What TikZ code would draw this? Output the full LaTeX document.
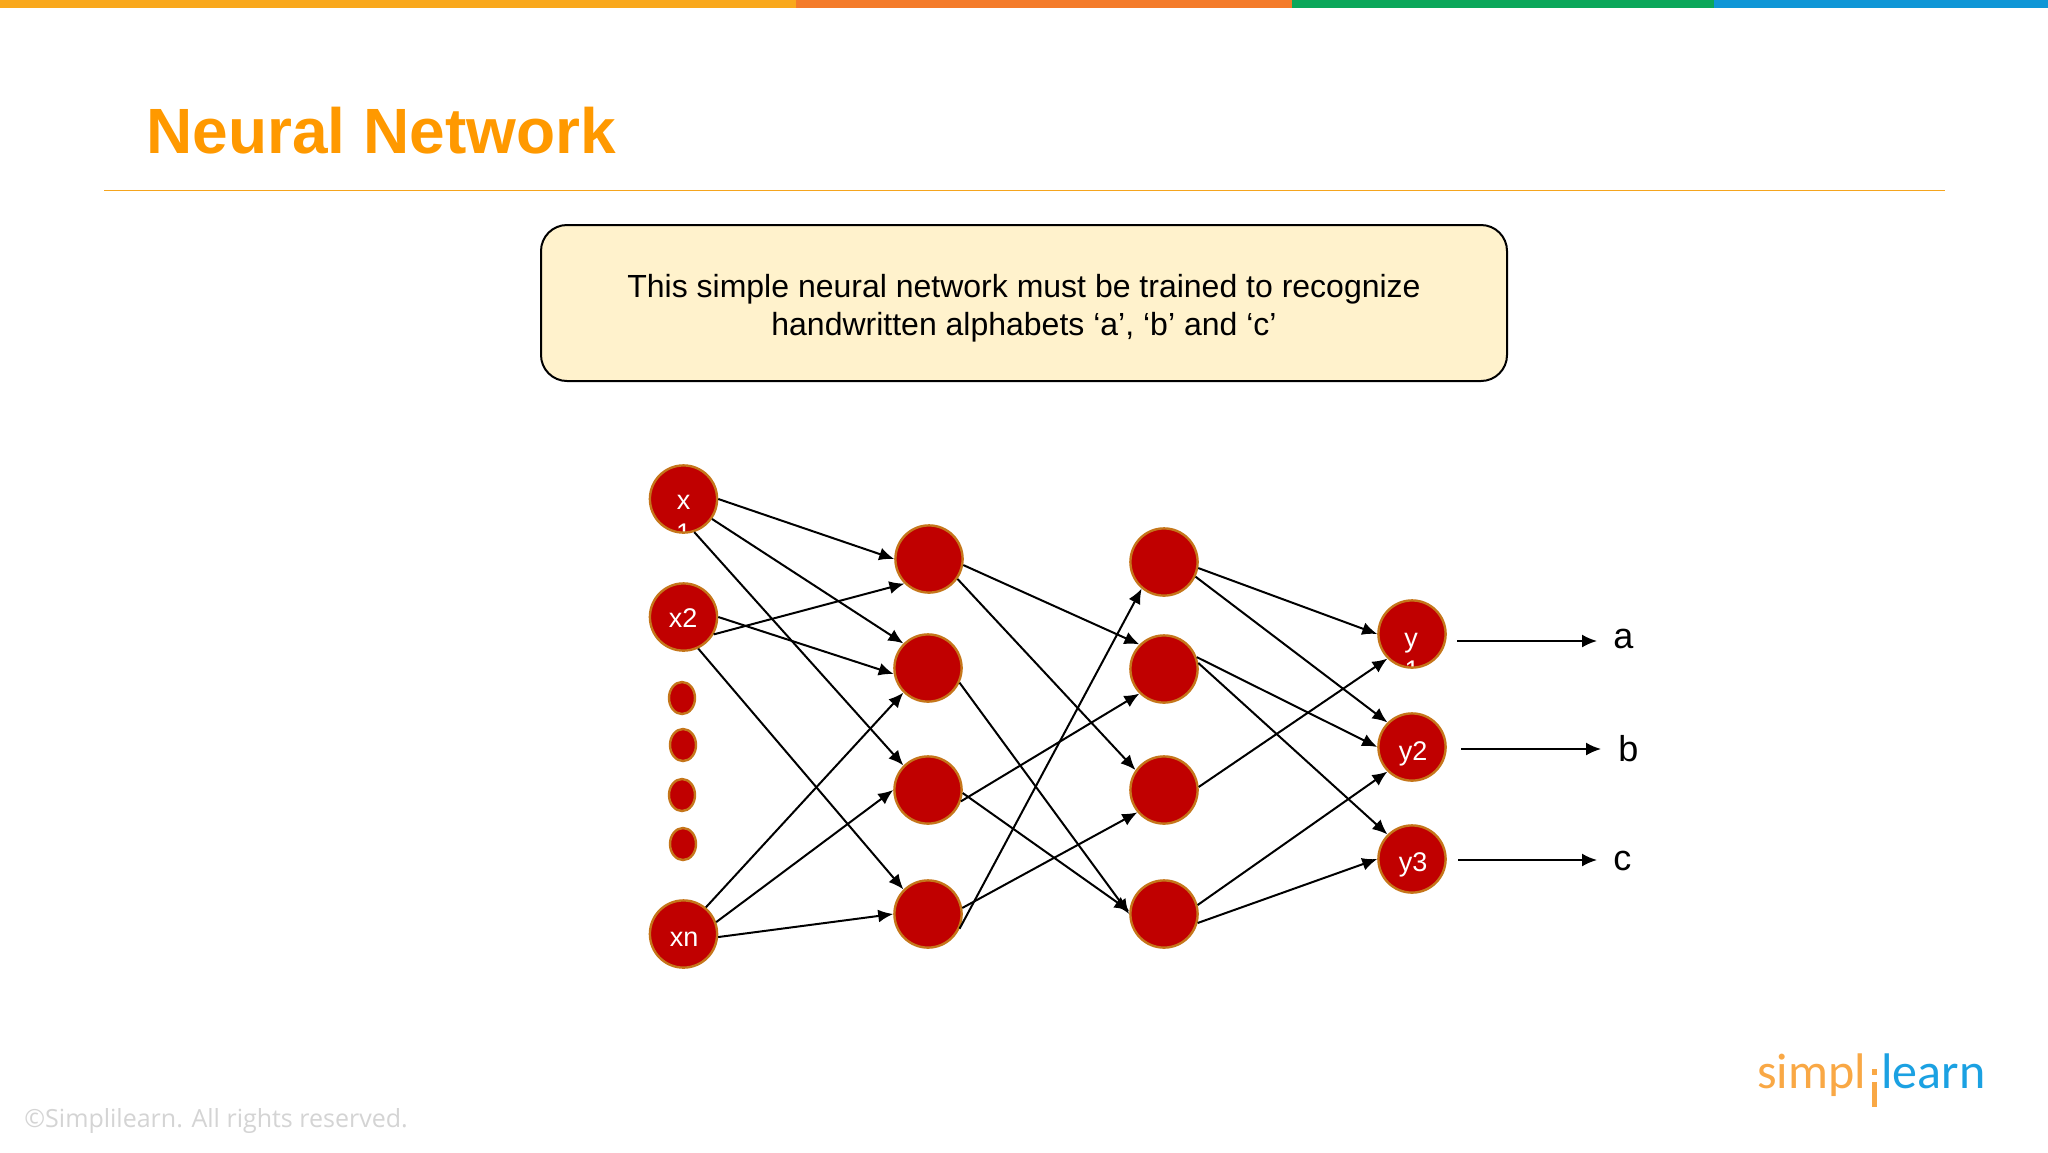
\documentclass[tikz,border=0pt]{standalone}
\usepackage{fontspec}
\setmainfont{Liberation Sans}
\newfontfamily\footfont{Open Sans}
\newfontfamily\logofont{Carlito}
\usetikzlibrary{arrows.meta,shapes.geometric}
\definecolor{brandorange}{HTML}{FF9900}
\definecolor{barA}{HTML}{F9A81C}
\definecolor{barB}{HTML}{F47B2A}
\definecolor{barC}{HTML}{0BA75A}
\definecolor{barD}{HTML}{0F96D6}
\definecolor{rulecol}{HTML}{F5A51E}
\definecolor{noteyellow}{HTML}{FFF2CC}
\definecolor{neuronred}{HTML}{C00000}
\definecolor{neuronedge}{HTML}{C5761A}
\definecolor{footgray}{HTML}{D4D4D4}
\definecolor{logoorange}{HTML}{F9A845}
\definecolor{logoblue}{HTML}{1BA1E2}
\tikzset{
  x=0.5pt,y=-0.5pt,
  neuron/.style={circle,draw=neuronedge,fill=neuronred,line width=1.2pt,minimum size=33.6pt,inner sep=0pt},
  dotnode/.style={ellipse,draw=neuronedge,fill=neuronred,line width=1.2pt,minimum width=13pt,minimum height=16pt,inner sep=0pt},
  neurontext/.style={rectangle,draw=none,fill=none,minimum size=0pt,inner sep=0pt,anchor=base,text=white,font=\fontsize{13.5}{15}\selectfont},
  link/.style={draw=black,line width=1pt,-{Latex[length=7.5pt,width=6.5pt]}},
  outlabel/.style={inner sep=0pt,font=\fontsize{18}{20}\selectfont},
}
\begin{document}
\begin{tikzpicture}
\useasboundingbox (0,0) rectangle (2048,1152);
\fill[white] (0,0) rectangle (2048,1152);
\fill[barA] (0,0) rectangle (796,8);
\fill[barB] (796,0) rectangle (1292,8);
\fill[barC] (1292,0) rectangle (1714,8);
\fill[barD] (1714,0) rectangle (2048,8);
\node[anchor=west,inner sep=0pt,text=brandorange,font=\fontsize{32}{36}\selectfont\bfseries] (title) at (146,131) {Neural Network};
\draw[rulecol,line width=0.8pt] (104,190.5) -- (1945,190.5);
\node[draw=black,line width=1pt,fill=noteyellow,rounded corners=13pt,minimum width=483pt,minimum height=78pt,inner sep=0pt] (note) at (1024,303) {};
\node[align=center,inner sep=0pt,font=\fontsize{16}{19}\selectfont] (notetext) at (1024,308) {This simple neural network must be trained to recognize\\handwritten alphabets ‘a’, ‘b’ and ‘c’};

% input layer
\node[neuron,path picture={
  \node[neurontext] (x1t) at (0,10) {x};
  \node[neurontext] (x1n) at (0,43) {1};
}] (x1) at (683.5,499) {};
\node[neuron] (x2) at (683.5,617) {};
\node[neurontext] (x2t) at (683,627) {x2};
\node[dotnode] (d1) at (682,698) {};
\node[dotnode] (d2) at (683,745) {};
\node[dotnode] (d3) at (682,795) {};
\node[dotnode] (d4) at (683,844) {};
\node[neuron] (xn) at (683.5,934) {};
\node[neurontext] (xnt) at (684,946) {xn};
% hidden 1
\node[neuron] (a1) at (929,559) {};
\node[neuron] (a2) at (928,668) {};
\node[neuron] (a3) at (928,790) {};
\node[neuron] (a4) at (928,914) {};
% hidden 2
\node[neuron] (b1) at (1164,562) {};
\node[neuron] (b2) at (1164,669) {};
\node[neuron] (b3) at (1164,790) {};
\node[neuron] (b4) at (1164,914) {};
% outputs
\node[neuron,path picture={
  \node[neurontext] (y1t) at (-1,13) {y};
  \node[neurontext] (y1n) at (0,45) {1};
}] (y1) at (1412,634) {};
\node[neuron] (y2) at (1412,747) {};
\node[neurontext] (y2t) at (1413,760) {y2};
\node[neuron] (y3) at (1412,859) {};
\node[neurontext] (y3t) at (1413,871) {y3};

\draw[link] (x1.0) -- (a1.180);
\draw[link] (x1.-35) -- (a2.135);
\draw[link] (x1.-72) -- (a3.135);
\draw[link] (x2.-30) -- (a1.225);
\draw[link] (x2.0) -- (a2.190);
\draw[link] (x2.-65) -- (a4.135);
\draw[link] (xn.50) -- (a2.225);
\draw[link] (xn.20) -- (a3.180);
\draw[link] (xn.-5) -- (a4.180);
\draw[link] (a1.-10) -- (b2.135);
\draw[link] (a1.-35) -- (b3.145);
\draw[link] (a2.-25) -- (b4.180);
\draw[link] (a3.-19) -- (b2.225);
\draw[link] (a3.-5) -- (b4.175);
\draw[link] (a4.10) -- (b3.220);
\draw[link] (a4.-25) -- (b1.230);
\draw[link] (b1.-10) -- (y1.180);
\draw[link] (b1.-25) -- (y2.135);
\draw[link] (b2.20) -- (y2.180);
\draw[link] (b2.10) -- (y3.135);
\draw[link] (b3.5) -- (y1.225);
\draw[link] (b4.15) -- (y2.225);
\draw[link] (b4.-15) -- (y3.180);

\node[outlabel,anchor=west] (la) at (1613,639) {a};
\node[outlabel,anchor=west] (lb) at (1618,749) {b};
\node[outlabel,anchor=west] (lc) at (1613,861) {c};
\coordinate (oa) at (1457,641);
\coordinate (ob) at (1461,749);
\coordinate (oc) at (1458,860);
\coordinate (ea) at (1597,641);
\coordinate (eb) at (1601,749);
\coordinate (ec) at (1597,860);
\draw[link] (oa) -- (ea);
\draw[link] (ob) -- (eb);
\draw[link] (oc) -- (ec);

\node[anchor=base west,inner sep=0pt,text=footgray,font=\footfont\fontsize{12.5}{15}\selectfont] (foot) at (24,1127) {©Simplilearn. All rights reserved.};

\node[anchor=base west,inner sep=0pt,text=logoorange,font=\logofont\fontsize{25}{30}\selectfont] (logoa) at (1757,1088) {simpl};
\node[anchor=base west,inner sep=0pt,text=logoblue,font=\logofont\fontsize{25}{30}\selectfont] (logob) at (1881,1088) {learn};
\fill[logoorange] (1871.5,1069) rectangle (1876.5,1075);
\fill[logoorange] (1871.5,1082) rectangle (1876.5,1107);
\end{tikzpicture}
\end{document}
